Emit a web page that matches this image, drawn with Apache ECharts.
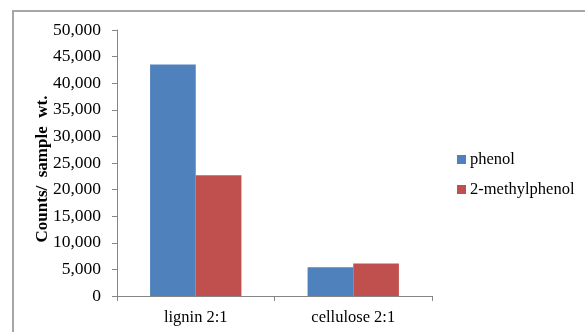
<!DOCTYPE html>
<html>
<head>
<meta charset="utf-8">
<script src="https://cdn.jsdelivr.net/npm/echarts@6/dist/echarts.min.js"></script>
<style>
  html, body { margin: 0; padding: 0; background: #fff; }
  #chart { width: 585px; height: 332px; }
</style>
</head>
<body>
<div id="chart"></div>
<script>
// data
const categories = ['lignin 2:1', 'cellulose 2:1'];
const phenol = [43500, 5400];
const methylphenol = [22700, 6100];

const myChart = echarts.init(document.getElementById('chart'));

const serif = '"Liberation Serif", "Times New Roman", serif';

myChart.setOption({
    animation: false,
    backgroundColor: '#fff',
    graphic: [
        {
            // outer frame of the chart area
            type: 'rect',
            shape: { x: 13, y: 11, width: 600, height: 340 },
            style: { fill: 'none', stroke: '#a6a6a6', lineWidth: 2 },
            silent: true,
        },
    ],
    grid: {
        left: 117,
        top: 30,
        right: 153,
        bottom: 36,
    },
    legend: {
        orient: 'vertical',
        left: 457,
        top: 151,
        padding: 0,
        itemWidth: 9,
        itemHeight: 9,
        itemGap: 13,
        icon: 'rect',
        textStyle: {
            fontFamily: serif,
            fontSize: 16.5,
            lineHeight: 16,
            color: '#000',
            padding: [0, 0, 0, -1],
        },
        data: ['phenol', '2-methylphenol'],
    },
    xAxis: {
        type: 'category',
        data: categories,
        axisLine: { lineStyle: { color: '#868686', width: 1 } },
        axisTick: { show: true, length: 5, lineStyle: { color: '#868686' } },
        axisLabel: {
            fontFamily: serif,
            fontSize: 16.5,
            color: '#000',
            margin: 13,
        },
    },
    yAxis: {
        type: 'value',
        min: 0,
        max: 50000,
        interval: 5000,
        name: 'Counts/  sample  wt.',
        nameLocation: 'middle',
        nameGap: 66,
        nameMoveOverlap: false,
        nameTextStyle: {
            fontFamily: serif,
            fontSize: 17,
            fontWeight: 'bold',
            color: '#000',
            padding: [0, 12, 0, 0],
        },
        splitLine: { show: false },
        axisLine: { show: true, lineStyle: { color: '#868686', width: 1 } },
        axisTick: { show: true, length: 5, lineStyle: { color: '#868686' } },
        axisLabel: {
            fontFamily: serif,
            fontSize: 17.5,
            color: '#000',
            margin: 16,
            formatter: function (v) {
                return v.toLocaleString('en-US');
            },
        },
    },
    series: [
        {
            name: 'phenol',
            type: 'bar',
            data: phenol,
            barGap: '0%',
            barCategoryGap: '42%',
            itemStyle: { color: '#4f81bd' },
        },
        {
            name: '2-methylphenol',
            type: 'bar',
            data: methylphenol,
            itemStyle: { color: '#c0504d' },
        },
    ],
});
</script>
</body>
</html>
